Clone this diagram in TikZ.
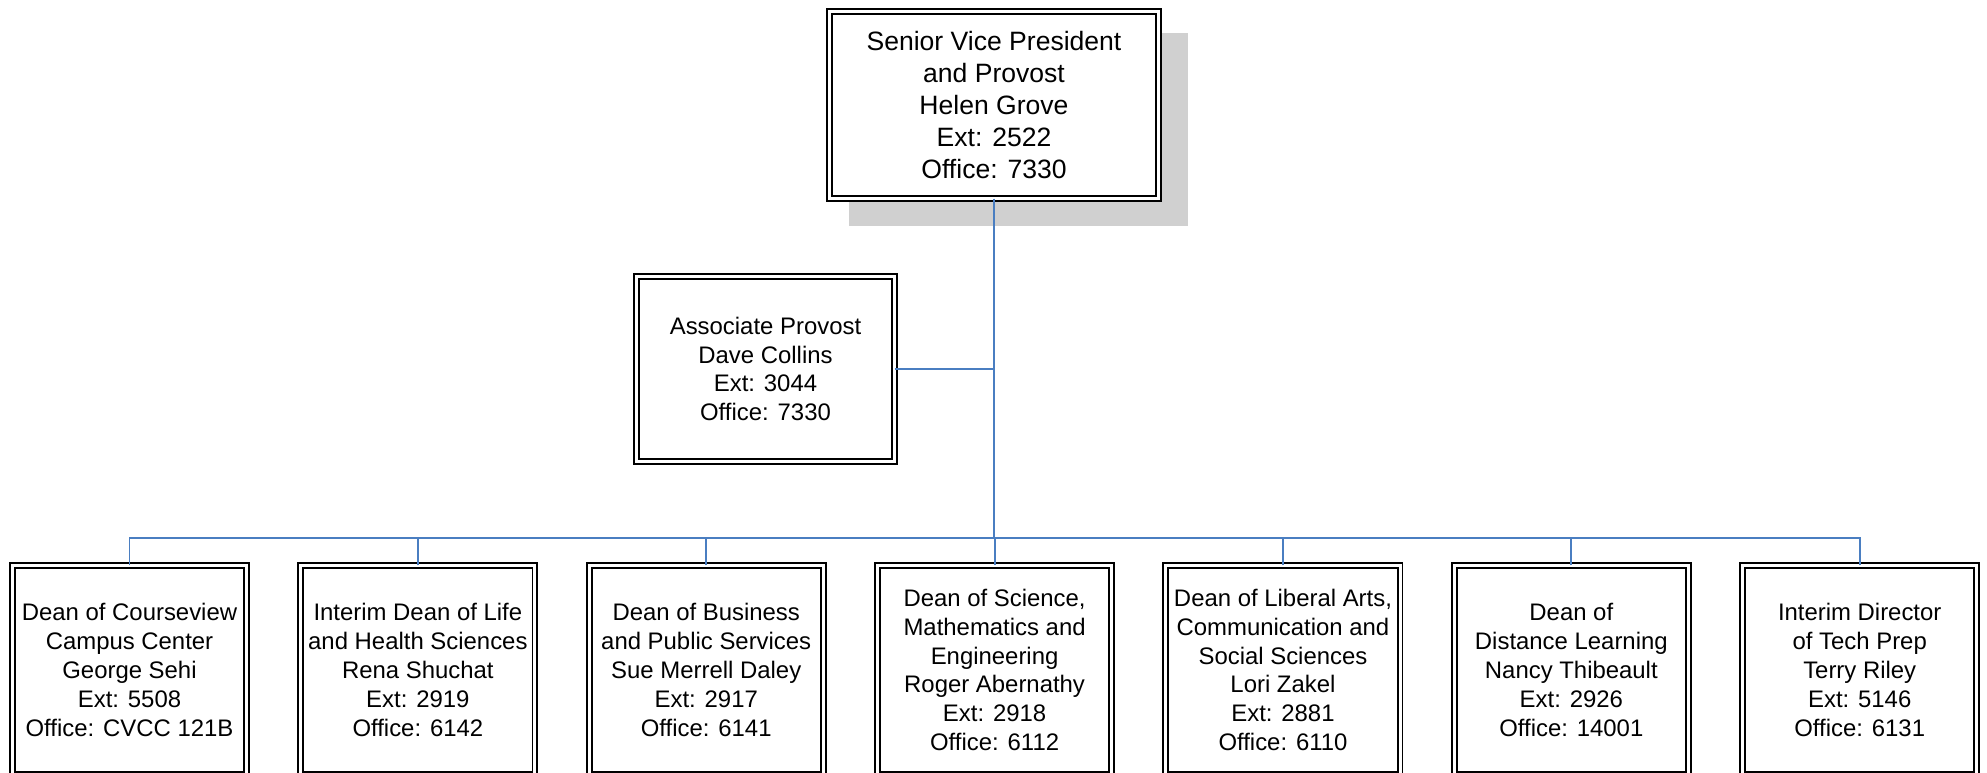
\documentclass[tikz,border=0pt]{standalone}
\usepackage{fontspec}
\setmainfont{Liberation Sans}
\usepackage{tikz}
\usetikzlibrary{positioning}
\usetikzlibrary{shadows}
\usepackage{xcolor}
\definecolor{linkblue}{RGB}{74,126,193}
\definecolor{shadowgray}{RGB}{208,208,208}

\begin{document}
\begin{tikzpicture}[x=0.01cm, y=-0.01cm,
    officebox/.style={draw, rectangle, line width=0.55pt, double, double distance=0.85pt, fill=white, align=center, inner sep=0pt, outer sep=0pt},
    deanbox/.style={officebox, minimum width=2.34cm, minimum height=2.09cm, font=\fontsize{6.8}{8.2}\selectfont},
    link/.style={draw=linkblue, line width=0.55pt}]
    \useasboundingbox (0,0) rectangle (1987,773);
    \clip (0,0) rectangle (1987,773);

    % Top office with its shadow
    \node (provost) [officebox, minimum width=3.29cm, minimum height=1.87cm, font=\fontsize{7.55}{9.1}\selectfont,
        general shadow={fill=shadowgray, shadow xshift=0.24cm, shadow yshift=-0.24cm, shadow scale=1.03}] at (994,105)
        {Senior Vice President\\and Provost\\Helen Grove\\Ext: 2522\\Office: 7330};

    % Staff office beside the main line
    \node (assoc) [officebox, minimum width=2.58cm, minimum height=1.85cm, font=\fontsize{6.8}{8.2}\selectfont] at (765.5,369)
        {Associate Provost\\Dave Collins\\Ext: 3044\\Office: 7330};

    % Row of deans
    \node (courseview) [deanbox] at (129.5,670) {Dean of Courseview\\Campus Center\\George Sehi\\Ext: 5508\\Office: CVCC 121B};
    \node (health) [deanbox, right=0.542cm of courseview] {Interim Dean of Life\\and Health Sciences\\Rena Shuchat\\Ext: 2919\\Office: 6142};
    \node (business) [deanbox, right=0.542cm of health] {Dean of Business\\and Public Services\\Sue Merrell Daley\\Ext: 2917\\Office: 6141};
    \node (science) [deanbox, right=0.542cm of business] {Dean of Science,\\Mathematics and\\Engineering\\Roger Abernathy\\Ext: 2918\\Office: 6112};
    \node (liberal) [deanbox, right=0.542cm of science] {Dean of Liberal Arts,\\Communication and\\Social Sciences\\Lori Zakel\\Ext: 2881\\Office: 6110};
    \node (distance) [deanbox, right=0.542cm of liberal] {Dean of\\Distance Learning\\Nancy Thibeault\\Ext: 2926\\Office: 14001};
    \node (techprep) [deanbox, right=0.542cm of distance] {Interim Director\\of Tech Prep\\Terry Riley\\Ext: 5146\\Office: 6131};

    % Reporting lines
    \coordinate (bus) at (994,538);
    \draw[link] (provost.south) -- (bus);
    \draw[link] (assoc.east) -- (assoc.east -| provost.south);
    \draw[link] (courseview.north) |- (bus);
    \draw[link] (health.north) |- (bus);
    \draw[link] (business.north) |- (bus);
    \draw[link] (science.north) |- (bus);
    \draw[link] (liberal.north) |- (bus);
    \draw[link] (distance.north) |- (bus);
    \draw[link] (techprep.north) |- (bus);
\end{tikzpicture}
\end{document}
